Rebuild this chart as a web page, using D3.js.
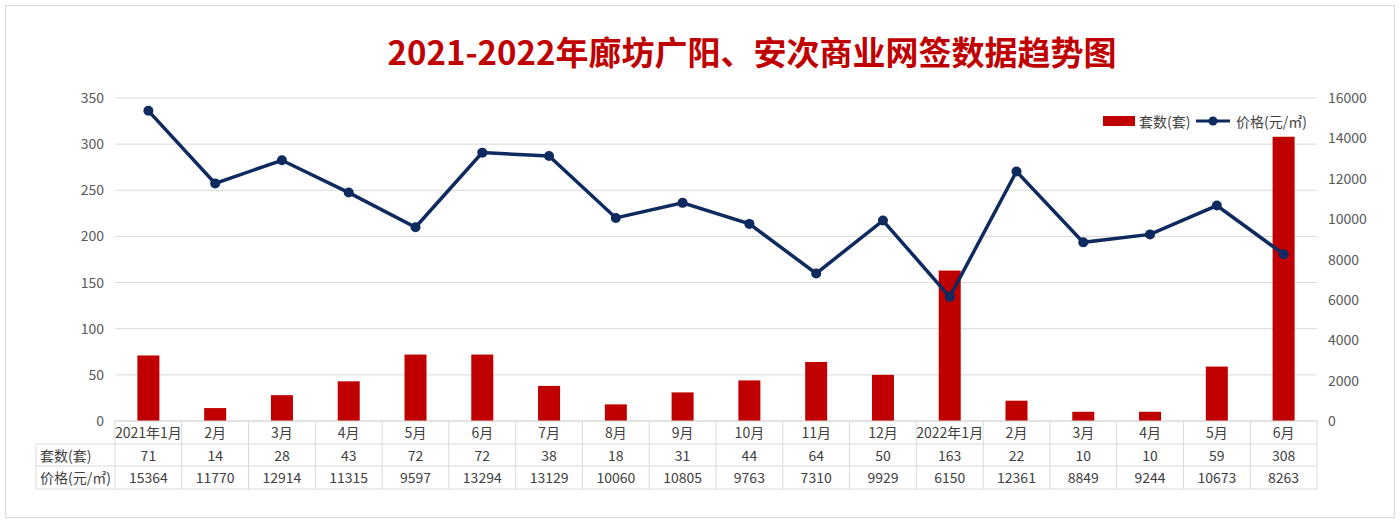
<!DOCTYPE html><html><head><meta charset="utf-8"><script src="https://cdn.jsdelivr.net/npm/d3@7"></script>
<style>body{margin:0;background:#fff}text{font-family:"Microsoft YaHei","Noto Sans CJK SC",sans-serif}</style></head><body><svg id="c" width="1400" height="523"></svg><script>
const categories=["2021年1月","2月","3月","4月","5月","6月","7月","8月","9月","10月","11月","12月","2022年1月","2月","3月","4月","5月","6月"];
const units=[71,14,28,43,72,72,38,18,31,44,64,50,163,22,10,10,59,308];
const prices=[15364,11770,12914,11315,9597,13294,13129,10060,10805,9763,7310,9929,6150,12361,8849,9244,10673,8263];
const leftTicks=[0,50,100,150,200,250,300,350];
const rightTicks=[0,2000,4000,6000,8000,10000,12000,14000,16000];
const svg=d3.select("#c");
svg.append("rect").attr("x",5.5).attr("y",5.5).attr("width",1389).attr("height",512).attr("fill","#fff").attr("stroke","#d9d9d9");
svg.append("text").attr("x",752).attr("y",65).attr("text-anchor","middle").attr("font-size",33).attr("font-weight","bold").attr("fill","#c00000").text("2021-2022年廊坊广阳、安次商业网签数据趋势图");
const L=115,R=1317,T=98,B=421;
const x=d3.scaleBand().domain(categories.map((c,i)=>i)).range([L,R]);
const yl=d3.scaleLinear().domain([0,350]).range([B,T]);
const yr=d3.scaleLinear().domain([0,16000]).range([B,T]);
leftTicks.forEach(t=>{svg.append("line").attr("x1",L).attr("x2",R).attr("y1",yl(t)).attr("y2",yl(t)).attr("stroke","#d9d9d9");
svg.append("text").attr("x",104).attr("y",yl(t)+5).attr("text-anchor","end").attr("font-size",14).attr("fill","#595959").text(t);});
rightTicks.forEach(t=>svg.append("text").attr("x",1328).attr("y",yr(t)+5).attr("font-size",14).attr("fill","#595959").text(t));
svg.selectAll(".b").data(units).join("rect").attr("x",(d,i)=>x(i)+x.bandwidth()/2-11).attr("width",22).attr("y",d=>yl(d)).attr("height",d=>B-yl(d)).attr("fill","#c00000");
svg.append("path").datum(prices).attr("fill","none").attr("stroke","#0e2a5e").attr("stroke-width",3.5).attr("d",d3.line().x((d,i)=>x(i)+x.bandwidth()/2).y(d=>yr(d)));
svg.selectAll(".p").data(prices).join("circle").attr("cx",(d,i)=>x(i)+x.bandwidth()/2).attr("cy",d=>yr(d)).attr("r",5).attr("fill","#0e2a5e");
const g="#d9d9d9";
svg.append("line").attr("x1",L).attr("x2",R).attr("y1",B).attr("y2",B).attr("stroke",g);
[444,466,489].forEach(yy=>svg.append("line").attr("x1",36).attr("x2",R).attr("y1",yy).attr("y2",yy).attr("stroke",g));
svg.append("line").attr("x1",36).attr("x2",36).attr("y1",444).attr("y2",489).attr("stroke",g);
categories.forEach((c,i)=>svg.append("line").attr("x1",x(i)).attr("x2",x(i)).attr("y1",B).attr("y2",489).attr("stroke",g));
svg.append("line").attr("x1",R).attr("x2",R).attr("y1",B).attr("y2",489).attr("stroke",g);
const tc=(xx,yy,t,a)=>svg.append("text").attr("x",xx).attr("y",yy).attr("text-anchor",a||"middle").attr("font-size",14).attr("fill","#404040").text(t);
categories.forEach((c,i)=>{const cx=x(i)+x.bandwidth()/2;tc(cx,438,c);tc(cx,461,units[i]);tc(cx,483,prices[i]);});
tc(40,461,"套数(套)","start");tc(40,483,"价格(元/㎡)","start");
svg.append("rect").attr("x",1103).attr("y",116).attr("width",32).attr("height",10).attr("fill","#c00000");
tc(1139,127,"套数(套)","start");
svg.append("line").attr("x1",1196).attr("x2",1230).attr("y1",121).attr("y2",121).attr("stroke","#0e2a5e").attr("stroke-width",3);
svg.append("circle").attr("cx",1213).attr("cy",121).attr("r",4.5).attr("fill","#0e2a5e");
tc(1236,127,"价格(元/㎡)","start");
</script></body></html>
